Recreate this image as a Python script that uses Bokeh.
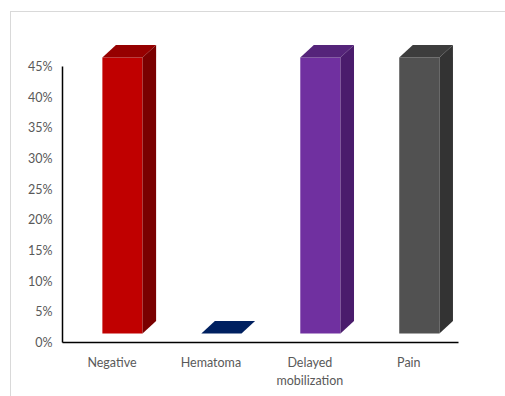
from bokeh.plotting import figure
from bokeh.models import Range1d, FixedTicker, PrintfTickFormatter
from bokeh.embed import file_html
from bokeh.resources import INLINE

categories = ["Negative", "Hematoma", "Delayed\nmobilization", "Pain"]
values = [45, 0, 45, 45]
front_colors = ["#C00000", "#002060", "#7030A0", "#515151"]
top_colors = ["#960000", "#002060", "#55247A", "#3D3D3D"]
side_colors = ["#7A0000", "#001848", "#4A1C6C", "#333333"]
y_ticks = [0, 5, 10, 15, 20, 25, 30, 35, 40, 45]

# 3D styling (in data units)
FACE_SHIFT = 0.106
HALF_W = 0.203
DX = 0.137
DY = 2.04
BASE = 1.47

FONT = "Lato"
TXT = "#595959"

p = figure(width=495, height=385, output_backend="svg", toolbar_location=None,
           x_range=Range1d(0, 4.487), y_range=Range1d(0, 53.8),
           min_border_left=51, min_border_right=0, min_border_top=0, min_border_bottom=55,
           margin=(11, 0, 0, 10))
p.styles = {"border-left": "1px solid #d9d9d9", "border-top": "1px solid #d9d9d9"}
p.outline_line_color = None
p.grid.visible = False
p.background_fill_color = "white"
p.border_fill_color = "white"

xs = [i + 0.5 for i in range(len(categories))]
lefts = [x + FACE_SHIFT - HALF_W for x in xs]
rights = [x + FACE_SHIFT + HALF_W for x in xs]
bottoms = [BASE for _ in values]
tops = [BASE + v for v in values]

# front faces
p.quad(left=lefts, right=rights, bottom=bottoms, top=tops,
       fill_color=front_colors, line_color=None)
# top faces
top_x = [[l, r, r + DX, l + DX] for l, r in zip(lefts, rights)]
top_y = [[t, t, t + DY, t + DY] for t in tops]
p.patches(top_x, top_y, fill_color=top_colors, line_color=None)
# side faces
side_x = [[r, r + DX, r + DX, r] for r in rights]
side_y = [[b, b + DY, t + DY, t] for b, t in zip(bottoms, tops)]
p.patches(side_x, side_y, fill_color=side_colors, line_color=None)

# axes
ya = p.yaxis[0]
ya.ticker = FixedTicker(ticks=y_ticks)
ya.formatter = PrintfTickFormatter(format="%d%%")
ya.bounds = (0, 45)
ya.minor_tick_line_color = None
ya.major_tick_out = 0
ya.major_tick_in = 0
ya.major_label_standoff = 10
ya.axis_line_color = "#000000"
ya.axis_line_width = 1.5
ya.major_label_text_font = FONT
ya.major_label_text_font_size = "12.5px"
ya.major_label_text_color = TXT

xa = p.xaxis[0]
xa.ticker = FixedTicker(ticks=xs)
xa.major_label_overrides = {x: c for x, c in zip(xs, categories)}
xa.bounds = (0, 4)
xa.minor_tick_line_color = None
xa.major_tick_out = 0
xa.major_tick_in = 0
xa.major_label_standoff = 12
xa.axis_line_color = "#000000"
xa.axis_line_width = 1.5
xa.major_label_text_font = FONT
xa.major_label_text_font_size = "12.5px"
xa.major_label_text_color = TXT

open("out.html", "w").write(file_html(p, INLINE))
